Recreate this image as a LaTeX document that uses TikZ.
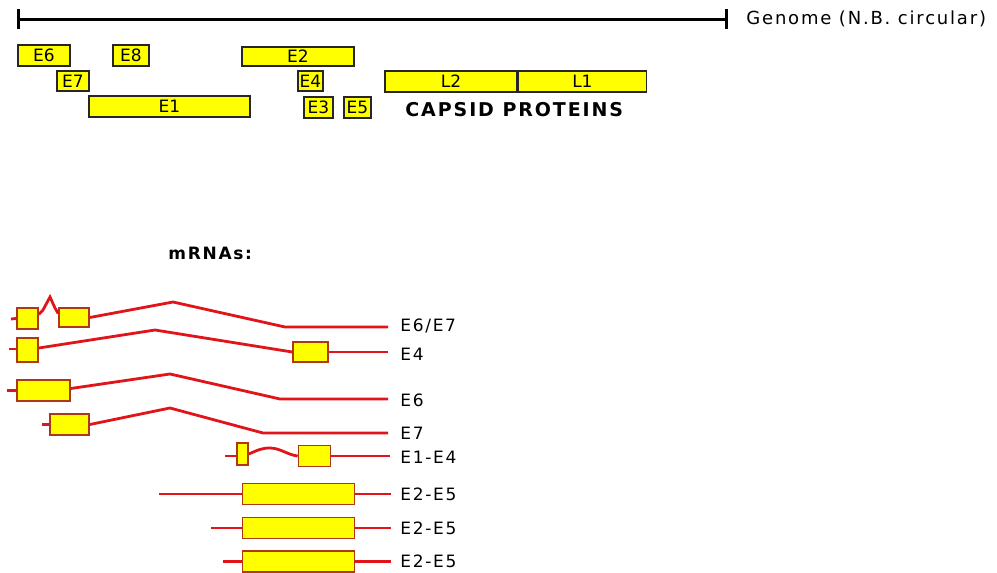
\documentclass[tikz,border=0pt]{standalone}
\usepackage{fontspec}
\newfontfamily\genefont[LetterSpace=10]{DejaVu Sans}
\newfontfamily\orffont{DejaVu Sans}
\usetikzlibrary{positioning,arrows.meta}
\definecolor{geneyellow}{RGB}{255,255,0}
\definecolor{rnared}{RGB}{225,20,25}
\definecolor{exonedge}{RGB}{175,55,20}
\tikzset{
  orf/.style={draw=black!85, fill=geneyellow, line width=0.7pt, inner sep=0pt, minimum height=10pt, font=\orffont\fontsize{8.5}{10}\selectfont},
  exon/.style={draw=exonedge, fill=geneyellow, line width=0.8pt, inner sep=0pt, minimum height=10pt},
  rna/.style={draw=rnared, line width=1.4pt},
  rnalabel/.style={anchor=west, inner sep=0pt, font=\genefont\fontsize{8.5}{10}\selectfont}
}
\begin{document}
\begin{tikzpicture}[x=0.5pt, y=-0.5pt]
\useasboundingbox (0,0) rectangle (997,573);

\coordinate (gs) at (17,19);
\coordinate (ge) at (728,19);
\draw[line width=1.5pt, {Bar[width=10pt]}-{Bar[width=10pt]}] (gs) -- (ge);
\node[anchor=west, inner sep=0pt, font=\genefont\fontsize{9}{11}\selectfont] (genome) at (746,19) {Genome (N.B. circular)};

\node[orf, minimum width=26pt, minimum height=10.5pt] (e6) at (44,55.5) {E6};
\node[orf, minimum width=18pt, minimum height=10.5pt] (e8) at (131,55.5) {E8};
\node[orf, minimum width=56pt, minimum height=9.5pt] (e2) at (298,56.5) {E2};
\node[orf, minimum width=16pt] (e7) at (73,81) {E7};
\node[orf, minimum width=12.5pt] (e4) at (310.5,81) {E4};
\node[orf, minimum width=80.5pt, minimum height=10.5pt] (e1) at (169.5,106.5) {E1};
\node[orf, minimum width=14.5pt, minimum height=10.5pt] (e3) at (318.5,107.5) {E3};
\node[orf, minimum width=13.5pt, minimum height=10.5pt] (e5) at (357.5,107.5) {E5};
\node[orf, minimum width=66pt, minimum height=10.5pt] (l2) at (451,81.5) {L2};
\node[orf, minimum width=64pt, minimum height=10.5pt, right=0pt of l2] (l1) {L1};
\node[anchor=west, inner sep=0pt, font=\genefont\bfseries\fontsize{9.5}{11}\selectfont] (capsid) at (405,110) {CAPSID PROTEINS};

\node[anchor=west, inner sep=0pt, font=\genefont\bfseries\fontsize{8.5}{10}\selectfont] (mrnas) at (168,253) {mRNAs:};

% E6/E7
\coordinate (r1s) at (11,319);
\node[exon, minimum width=10.5pt, minimum height=10.5pt] (r1a) at (27.5,318.5) {};
\node[exon, minimum width=15pt, minimum height=9.5pt] (r1b) at (74,317.5) {};
\coordinate (r1e) at (388,327);
\node[rnalabel] (r1l) at (400,326) {E6/E7};
\draw[rna] (r1s) -- (r1a.west);
\draw[rna] ([yshift=2pt]r1a.east) -- (43,310) -- (50,297) -- (55,308) -- ([yshift=2pt]r1b.west);
\draw[rna] (r1b.east) -- (173,302) -- (285,327) -- (r1e);

% E4
\coordinate (r2s) at (9,349);
\node[exon, minimum width=10.5pt, minimum height=12pt] (r2a) at (27.5,350) {};
\node[exon, minimum width=17.5pt] (r2b) at (310.5,352) {};
\coordinate (r2e) at (388,352);
\node[rnalabel] (r2l) at (400,354) {E4};
\draw[rna] (r2s) -- (r2a.west |- r2s);
\draw[rna] ([yshift=1pt]r2a.east) -- (155,330) -- (r2b.west);
\draw[rna] (r2b.east) -- (r2e);

% E6
\coordinate (r3s) at (7,390.5);
\node[exon, minimum width=26.5pt, minimum height=10.5pt] (r3a) at (43.5,390.5) {};
\coordinate (r3e) at (388,399);
\node[rnalabel] (r3l) at (400,400) {E6};
\draw[rna] (r3s) -- (r3a.west);
\draw[rna] ([yshift=1pt]r3a.east) -- (170,374) -- (280,399) -- (r3e);

% E7
\coordinate (r4s) at (42,424.5);
\node[exon, minimum width=19.5pt, minimum height=10.5pt] (r4a) at (69.5,424.5) {};
\coordinate (r4e) at (388,433);
\node[rnalabel] (r4l) at (400,433) {E7};
\draw[rna] (r4s) -- (r4a.west);
\draw[rna] (r4a.east) -- (170,408) -- (263,433) -- (r4e);

% E1-E4
\coordinate (r5s) at (225,456);
\node[exon, minimum width=5.5pt, minimum height=11pt] (r5a) at (242.5,454) {};
\node[exon, minimum width=16pt, minimum height=10.5pt] (r5b) at (314.5,456) {};
\coordinate (r5e) at (390,456);
\node[rnalabel] (r5l) at (400,457) {E1-E4};
\draw[rna] (r5s) -- (r5a.west |- r5s);
\draw[rna] (r5a.east) .. controls (258,450) and (262,448) .. (270,448) .. controls (280,448) and (288,455) .. (r5b.west);
\draw[rna] (r5b.east) -- (r5e);

% E2-E5
\foreach \i/\xs/\y in {6/159/494, 7/211/528, 8/223/561.5}{
  \coordinate (r\i s) at (\xs,\y);
  \node[exon, minimum width=56pt, minimum height=10.5pt] (r\i a) at (298.5,\y) {};
  \coordinate (r\i e) at (391,\y);
  \node[rnalabel] (r\i l) at (400,\y) {E2-E5};
  \draw[rna] (r\i s) -- (r\i a.west);
  \draw[rna] (r\i a.east) -- (r\i e);
}

\end{tikzpicture}
\end{document}
